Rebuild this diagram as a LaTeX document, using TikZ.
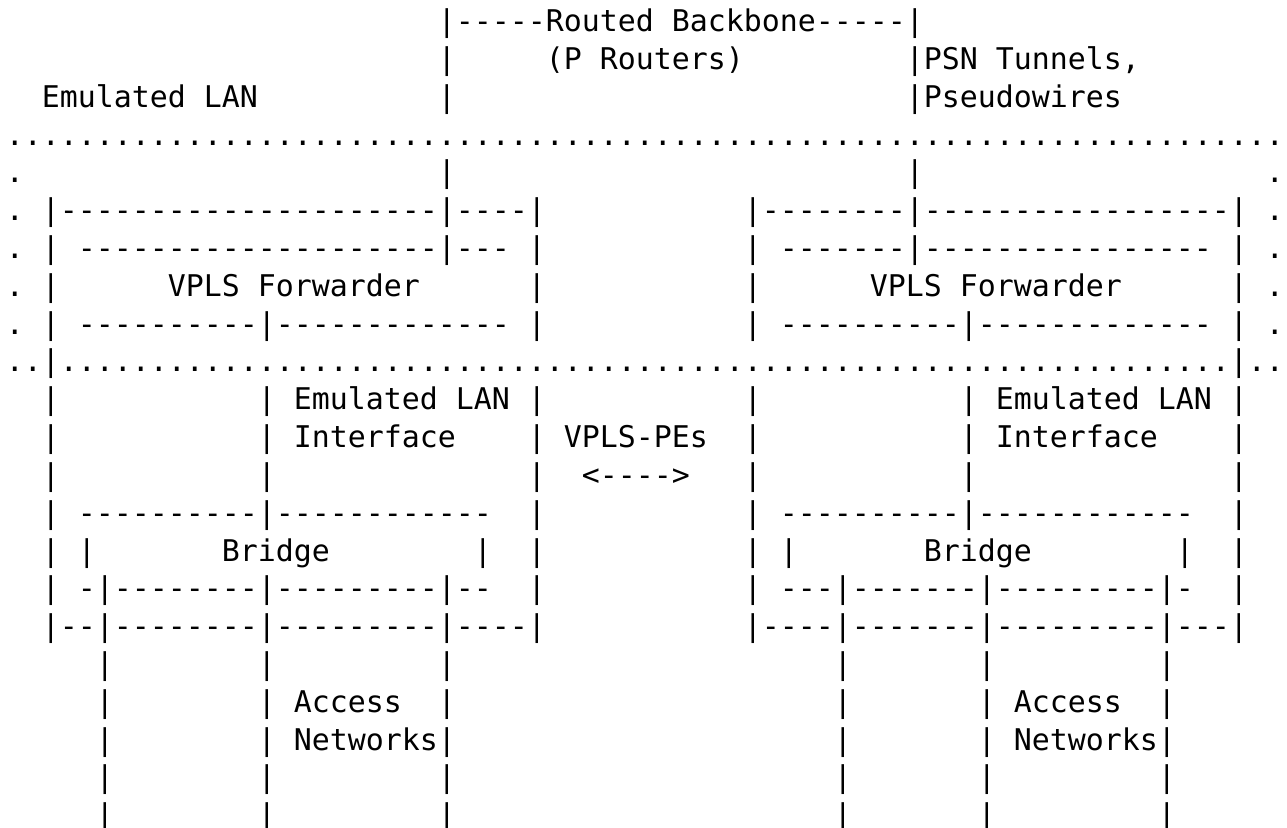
\documentclass[tikz,border=0pt]{standalone}
\usepackage{fontspec}
\setmonofont{DejaVu Sans Mono}
\ExplSyntaxOn
\cs_new:Npn \myrep #1#2 { \prg_replicate:nn {#1} {#2} }
\ExplSyntaxOff
\tikzset{asc/.style={anchor=base west, inner sep=0pt, outer sep=0pt, text=black,
  font=\ttfamily\fontsize{14.95pt}{18pt}\selectfont\frenchspacing}}
\newcommand\seg[3]{\node[asc] (l#1c#2) at ({2.9pt+#2*9pt},{-15.8pt-(#1-1)*18.91pt}) {#3};}
\newcommand\pipes[1]{\seg{#1}{5}{|}\seg{#1}{14}{|}\seg{#1}{24}{|}\seg{#1}{46}{|}\seg{#1}{54}{|}\seg{#1}{64}{|}}
\begin{document}
\begin{tikzpicture}
\useasboundingbox (0,0) rectangle (643.5pt,-414pt);
% line 1-3
\seg{1}{24}{|\myrep{5}{-}Routed Backbone\myrep{5}{-}|}
\seg{2}{24}{|}\seg{2}{30}{(P Routers)}\seg{2}{50}{|PSN Tunnels,}
\seg{3}{2}{Emulated LAN}\seg{3}{24}{|}\seg{3}{50}{|Pseudowires}
% line 4-10
\seg{4}{0}{\myrep{71}{.}}
\seg{5}{0}{.}\seg{5}{24}{|}\seg{5}{50}{|}\seg{5}{70}{.}
\seg{6}{0}{.}\seg{6}{2}{|\myrep{21}{-}|\myrep{4}{-}|}\seg{6}{41}{|\myrep{8}{-}|\myrep{17}{-}|}\seg{6}{70}{.}
\seg{7}{0}{.}\seg{7}{2}{|}\seg{7}{4}{\myrep{20}{-}|\myrep{3}{-}}\seg{7}{29}{|}
\seg{7}{41}{|}\seg{7}{43}{\myrep{7}{-}|\myrep{16}{-}}\seg{7}{68}{|}\seg{7}{70}{.}
\seg{8}{0}{.}\seg{8}{2}{|}\seg{8}{9}{VPLS Forwarder}\seg{8}{29}{|}
\seg{8}{41}{|}\seg{8}{48}{VPLS Forwarder}\seg{8}{68}{|}\seg{8}{70}{.}
\seg{9}{0}{.}\seg{9}{2}{|}\seg{9}{4}{\myrep{10}{-}|\myrep{13}{-}}\seg{9}{29}{|}
\seg{9}{41}{|}\seg{9}{43}{\myrep{10}{-}|\myrep{13}{-}}\seg{9}{68}{|}\seg{9}{70}{.}
\seg{10}{0}{..|\myrep{65}{.}|..}
% line 11-17
\seg{11}{2}{|}\seg{11}{14}{|}\seg{11}{16}{Emulated LAN}\seg{11}{29}{|}
\seg{11}{41}{|}\seg{11}{53}{|}\seg{11}{55}{Emulated LAN}\seg{11}{68}{|}
\seg{12}{2}{|}\seg{12}{14}{|}\seg{12}{16}{Interface}\seg{12}{29}{|}\seg{12}{31}{VPLS-PEs}
\seg{12}{41}{|}\seg{12}{53}{|}\seg{12}{55}{Interface}\seg{12}{68}{|}
\seg{13}{2}{|}\seg{13}{14}{|}\seg{13}{29}{|}\seg{13}{32}{<\myrep{4}{-}>}
\seg{13}{41}{|}\seg{13}{53}{|}\seg{13}{68}{|}
\seg{14}{2}{|}\seg{14}{4}{\myrep{10}{-}|\myrep{12}{-}}\seg{14}{29}{|}
\seg{14}{41}{|}\seg{14}{43}{\myrep{10}{-}|\myrep{12}{-}}\seg{14}{68}{|}
\seg{15}{2}{|}\seg{15}{4}{|}\seg{15}{12}{Bridge}\seg{15}{26}{|}\seg{15}{29}{|}
\seg{15}{41}{|}\seg{15}{43}{|}\seg{15}{51}{Bridge}\seg{15}{65}{|}\seg{15}{68}{|}
\seg{16}{2}{|}\seg{16}{4}{-|\myrep{8}{-}|\myrep{9}{-}|--}\seg{16}{29}{|}
\seg{16}{41}{|}\seg{16}{43}{---|\myrep{7}{-}|\myrep{9}{-}|-}\seg{16}{68}{|}
\seg{17}{2}{|--|\myrep{8}{-}|\myrep{9}{-}|\myrep{4}{-}|}
\seg{17}{41}{|\myrep{4}{-}|\myrep{7}{-}|\myrep{9}{-}|\myrep{3}{-}|}
% line 18-22
\pipes{18}
\pipes{19}\seg{19}{16}{Access}\seg{19}{56}{Access}
\pipes{20}\seg{20}{16}{Networks}\seg{20}{56}{Networks}
\pipes{21}
\pipes{22}
\end{tikzpicture}
\end{document}
